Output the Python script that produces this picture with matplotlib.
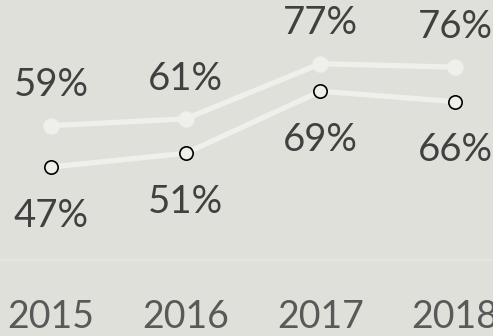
import matplotlib
matplotlib.use("Agg")
import matplotlib.pyplot as plt

years = ["2015", "2016", "2017", "2018"]
series_top = [59, 61, 77, 76]
series_bottom = [47, 51, 69, 66]

BG = "#e0e0db"
LINE = "#efefeb"
TEXT = "#404040"
TICK_TEXT = "#595959"

plt.rcParams["font.family"] = ["Lato", "DejaVu Sans"]

fig = plt.figure(figsize=(4.93, 3.36), dpi=100, facecolor=BG)
ax = fig.add_axes([0, 76 / 336, 1, 260 / 336], facecolor=BG)

x = list(range(len(years)))

ax.plot(x, series_top, color=LINE, lw=3.8, marker="o", ms=10.8,
        markerfacecolor=LINE, markeredgecolor=LINE, solid_capstyle="round", zorder=2)
ax.plot(x, series_bottom, color=LINE, lw=3.8, marker="o", ms=9.6,
        markerfacecolor=LINE, markeredgecolor="black", markeredgewidth=1.2,
        solid_capstyle="round", zorder=3)

for xi, v in zip(x, series_top):
    ax.annotate(f"{v}%", (xi, v), xytext=(0, 29), textcoords="offset points",
                ha="center", va="center", fontsize=27.5, color=TEXT)
for xi, v in zip(x, series_bottom):
    ax.annotate(f"{v}%", (xi, v), xytext=(0, -35), textcoords="offset points",
                ha="center", va="center", fontsize=27.5, color=TEXT)

ax.set_xlim(-51 / 134.67, 442 / 134.67)
ax.set_ylim(20, 95.5)

ax.set_xticks(x)
ax.set_xticklabels(years, fontsize=27, color=TICK_TEXT)
ax.tick_params(axis="x", length=0, pad=28)
ax.set_yticks([])

for side in ("top", "left", "right"):
    ax.spines[side].set_visible(False)
ax.spines["bottom"].set_color("#e7e7e3")
ax.spines["bottom"].set_linewidth(1.2)

fig.savefig("out.png", dpi=100, facecolor=BG)
